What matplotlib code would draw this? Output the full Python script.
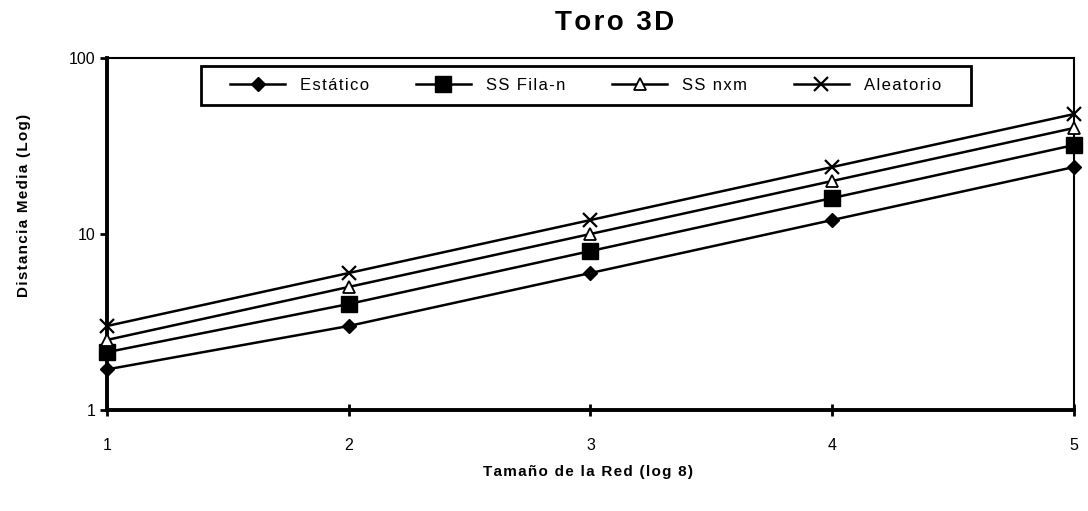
import numpy as np
import matplotlib
matplotlib.use("Agg")
import matplotlib.pyplot as plt
from matplotlib.patches import Rectangle

plt.rcParams['font.family'] = ['Liberation Sans', 'DejaVu Sans']

# network size (log 8) and mean distance per strategy
sizes = [1, 2, 3, 4, 5]
estatico = [1.7, 3, 6, 12, 24]
ss_fila = [2.13, 4, 8, 16, 32]
ss_nxm = [2.5, 5, 10, 20, 40]
aleatorio = [3, 6, 12, 24, 48]
y_ticks = [1, 10, 100]

series = [
    ("Estático", estatico, dict(marker='D', markersize=7.5, mfc='black', mec='black')),
    ("SS Fila-n", ss_fila, dict(marker='s', markersize=11, mfc='black', mec='black')),
    ("SS nxm", ss_nxm, dict(marker='^', markersize=9, mfc='white', mec='black', mew=1.3)),
    ("Aleatorio", aleatorio, dict(marker='x', markersize=10, mec='black', mew=1.6)),
]


def spaced(s):
    "letter-spaced text, like the old spreadsheet fonts"
    return '\u200a'.join(s)


fig = plt.figure(figsize=(10.88, 5.11), dpi=100)
ax = fig.add_axes([0.0983, 0.1977, 0.8887, 0.6888])

for name, vals, style in series:
    ax.plot(sizes, vals, color='black', lw=1.8, label=spaced(name),
            clip_on=False, zorder=3, **style)

ax.set_yscale('log')
ax.set_ylim(1, 100)
ax.set_xlim(1, 5)
ax.set_xticks(sizes)
ax.set_xticklabels([str(s) for s in sizes])
ax.set_yticks(y_ticks)
ax.set_yticklabels([str(t) for t in y_ticks])
ax.yaxis.set_minor_locator(matplotlib.ticker.NullLocator())

ax.tick_params(axis='x', direction='inout', length=8, width=2, pad=16, labelsize=11.5)
ax.tick_params(axis='y', direction='out', length=5, width=2, pad=3, labelsize=11.5)

ax.spines['left'].set_linewidth(2.8)
ax.spines['bottom'].set_linewidth(2.8)
ax.spines['top'].set_linewidth(1.5)
ax.spines['right'].set_linewidth(1.5)

fig.text(0.565, 0.955, spaced("Toro 3D"), fontsize=20, fontweight='bold',
         ha='center', va='center')
ax.set_ylabel(spaced("Distancia Media (Log)"), fontsize=11, fontweight='bold')
ax.yaxis.set_label_coords(-0.079, 0.58)
ax.set_xlabel(spaced("Tamaño de la Red (log 8)"), fontsize=11, fontweight='bold')
ax.xaxis.set_label_coords(0.497, -0.156)

leg = ax.legend(loc='center', bbox_to_anchor=(0.495, 0.922), ncol=4,
                frameon=False, fontsize=12, handlelength=3.3,
                columnspacing=2.8, borderpad=0.7, handletextpad=0.9)

# legend box: wider at the sides than above and below
fig.canvas.draw()
bb = leg.get_window_extent().transformed(fig.transFigure.inverted())
dx = 18 / 1088
ax.add_patch(Rectangle((bb.x0 - dx, bb.y0), bb.width + 2 * dx, bb.height,
                       transform=fig.transFigure, fill=False, edgecolor='black',
                       lw=2, zorder=5))

fig.savefig("out.png", dpi=100, facecolor='white')
